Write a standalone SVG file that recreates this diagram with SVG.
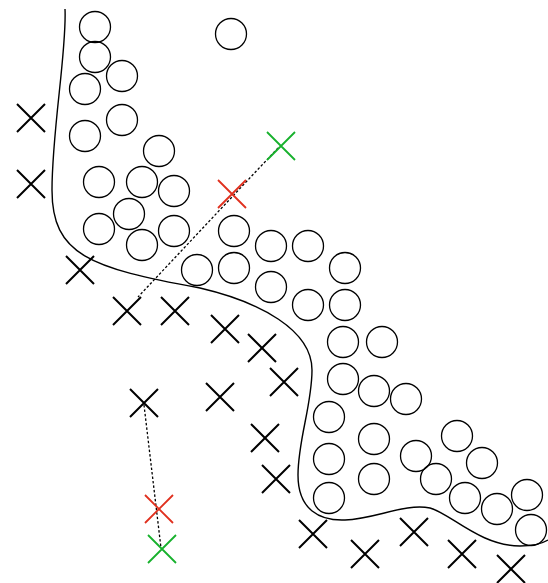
<svg xmlns="http://www.w3.org/2000/svg" width="548" height="583" viewBox="0 0 548 583">
<defs>
<style>
.c{fill:none;stroke:#000;stroke-width:1.3}
.x{stroke:#000;stroke-width:2;fill:none}
.xr{stroke:#e0301e;stroke-width:1.8;fill:none}
.xg{stroke:#17b12c;stroke-width:1.8;fill:none}
.d{stroke:#000;stroke-width:1.3;stroke-dasharray:2.5 2;fill:none}
.b{fill:none;stroke:#000;stroke-width:1.4}
</style>
<path id="X" d="M-14-14L14 14M-14 14L14-14"/>
</defs>
<rect width="548" height="583" fill="#fff"/>
<g id="boundary"><path class="b" d="M65 9C67 50 52 130 52 190C52 255 90 268 200 288C260 302 312 330 312 370C312 405 298 440 298 475C298 510 320 521 345 520C375 519 405 503 430 508C450 513 480 546 520 546C535 546 543 543 548 540"/></g>
<g id="connectors">
<path class="d" d="M278 148L138 297"/>
<path class="d" d="M144 405L161 548"/>
</g>
<g id="circles">
<circle class="c" cx="95" cy="27" r="15.5"/>
<circle class="c" cx="95" cy="57" r="15.5"/>
<circle class="c" cx="122" cy="76" r="15.5"/>
<circle class="c" cx="85" cy="89" r="15.5"/>
<circle class="c" cx="231" cy="34" r="15.5"/>
<circle class="c" cx="122" cy="120" r="15.5"/>
<circle class="c" cx="85" cy="136" r="15.5"/>
<circle class="c" cx="159" cy="151" r="15.5"/>
<circle class="c" cx="99" cy="182" r="15.5"/>
<circle class="c" cx="142" cy="182" r="15.5"/>
<circle class="c" cx="174" cy="191" r="15.5"/>
<circle class="c" cx="129" cy="214" r="15.5"/>
<circle class="c" cx="99" cy="229" r="15.5"/>
<circle class="c" cx="142" cy="245" r="15.5"/>
<circle class="c" cx="174" cy="231" r="15.5"/>
<circle class="c" cx="234" cy="231" r="15.5"/>
<circle class="c" cx="197" cy="270" r="15.5"/>
<circle class="c" cx="234" cy="268" r="15.5"/>
<circle class="c" cx="271" cy="246" r="15.5"/>
<circle class="c" cx="308" cy="246" r="15.5"/>
<circle class="c" cx="345" cy="268" r="15.5"/>
<circle class="c" cx="271" cy="287" r="15.5"/>
<circle class="c" cx="308" cy="305" r="15.5"/>
<circle class="c" cx="345" cy="305" r="15.5"/>
<circle class="c" cx="343" cy="342" r="15.5"/>
<circle class="c" cx="382" cy="342" r="15.5"/>
<circle class="c" cx="343" cy="379" r="15.5"/>
<circle class="c" cx="374" cy="391" r="15.5"/>
<circle class="c" cx="406" cy="399" r="15.5"/>
<circle class="c" cx="329" cy="417" r="15.5"/>
<circle class="c" cx="374" cy="439" r="15.5"/>
<circle class="c" cx="457" cy="436" r="15.5"/>
<circle class="c" cx="329" cy="459" r="15.5"/>
<circle class="c" cx="416" cy="456" r="15.5"/>
<circle class="c" cx="482" cy="463" r="15.5"/>
<circle class="c" cx="436" cy="479" r="15.5"/>
<circle class="c" cx="374" cy="479" r="15.5"/>
<circle class="c" cx="329" cy="498" r="15.5"/>
<circle class="c" cx="465" cy="498" r="15.5"/>
<circle class="c" cx="527" cy="495" r="15.5"/>
<circle class="c" cx="497" cy="509" r="15.5"/>
<circle class="c" cx="531" cy="530" r="15.5"/>
</g>
<g id="crosses">
<use href="#X" class="x" x="31" y="118"/>
<use href="#X" class="x" x="31" y="184"/>
<use href="#X" class="x" x="80" y="270"/>
<use href="#X" class="x" x="127" y="311"/>
<use href="#X" class="x" x="175" y="311"/>
<use href="#X" class="x" x="225" y="329"/>
<use href="#X" class="x" x="262" y="348"/>
<use href="#X" class="x" x="284" y="382"/>
<use href="#X" class="x" x="220" y="397"/>
<use href="#X" class="x" x="144" y="403"/>
<use href="#X" class="x" x="265" y="438"/>
<use href="#X" class="x" x="276" y="479"/>
<use href="#X" class="x" x="313" y="534"/>
<use href="#X" class="x" x="365" y="554"/>
<use href="#X" class="x" x="414" y="532"/>
<use href="#X" class="x" x="462" y="554"/>
<use href="#X" class="x" x="511" y="569"/>
</g>
<g id="red-crosses">
<use href="#X" class="xr" x="232" y="194"/>
<use href="#X" class="xr" x="159" y="509"/>
</g>
<g id="green-crosses">
<use href="#X" class="xg" x="281" y="146"/>
<use href="#X" class="xg" x="162" y="549"/>
</g>
</svg>
